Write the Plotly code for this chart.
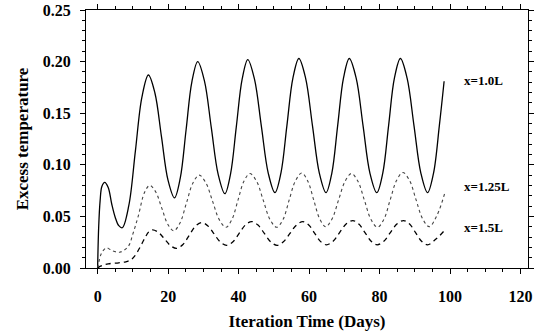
import plotly.graph_objects as go

# x = 1.0L (solid)
t_10 = [0, 0.3, 0.7, 1.2, 2.0, 3.0, 4.0, 5.0, 6.0, 7.0, 8.85, 10.7, 12.55, 14.4,
        16.25, 18.1, 19.95, 21.8, 23.45, 25.1, 26.75, 28.4, 30.3, 32.25, 34.2, 36.1,
        37.7, 39.35, 41.0, 42.6, 44.5, 46.45, 48.4, 50.3, 52.0, 53.7, 55.4, 57.1,
        59.0, 60.95, 62.9, 64.8, 66.45, 68.1, 69.75, 71.4, 73.35, 75.3, 77.25, 79.2,
        80.9, 82.55, 84.2, 85.9, 87.8, 89.75, 91.7, 93.6, 95.3, 96.95, 98.3]
y_10 = [0, 0.04, 0.065, 0.079, 0.083, 0.078, 0.062, 0.049, 0.041, 0.039, 0.0606, 0.113, 0.1654, 0.187,
        0.1696, 0.1275, 0.0854, 0.068, 0.0873, 0.134, 0.1807, 0.200, 0.1813, 0.136, 0.0907, 0.072,
        0.091, 0.137, 0.183, 0.202, 0.183, 0.1375, 0.092, 0.073, 0.092, 0.138, 0.184, 0.203,
        0.184, 0.138, 0.092, 0.073, 0.092, 0.138, 0.184, 0.203, 0.184, 0.138, 0.092, 0.073,
        0.092, 0.138, 0.184, 0.203, 0.184, 0.138, 0.092, 0.073, 0.092, 0.138, 0.181]

# x = 1.25L (dotted)
t_125 = [0, 0.5, 1.2, 2.5, 4.0, 6.3, 8.7, 10.0, 11.5, 13.4, 14.8,
         16.5, 18.2, 19.9, 21.6, 23.4, 25.2, 27.0, 28.8, 30.7, 32.6, 34.5, 36.4,
         38.1, 39.8, 41.5, 43.2, 45.1, 47.0, 48.9, 50.8, 52.6, 54.35, 56.1, 57.9,
         59.6, 61.3, 63.0, 64.7, 66.5, 68.35, 70.2, 72.0, 73.85, 75.7, 77.55, 79.4,
         81.2, 83.0, 84.8, 86.6, 88.5, 90.35, 92.2, 94.1, 96.3, 98.5]
y_125 = [0, 0.008, 0.015, 0.0195, 0.017, 0.0153, 0.021, 0.033, 0.050, 0.074, 0.080,
         0.0736, 0.058, 0.0424, 0.036, 0.0439, 0.063, 0.0821, 0.090, 0.0826, 0.0648, 0.0469, 0.0395,
         0.047, 0.0655, 0.084, 0.0915, 0.084, 0.0655, 0.047, 0.0395, 0.047, 0.066, 0.0843, 0.092,
         0.0844, 0.066, 0.0476, 0.040, 0.0475, 0.0658, 0.084, 0.0915, 0.084, 0.0655, 0.047, 0.0395,
         0.047, 0.066, 0.0848, 0.0925, 0.0848, 0.066, 0.0477, 0.040, 0.0512, 0.0727]

# x = 1.5L (dashed)
t_15 = [0, 1.0, 3.0, 6.0, 8.0, 9.5, 10.6, 12.0, 13.4, 14.5, 15.6,
        17.3, 19.0, 20.7, 22.4, 24.2, 25.95, 27.7, 29.5, 31.3, 33.05, 34.8, 36.6,
        38.4, 40.15, 41.9, 43.7, 45.5, 47.3, 49.1, 50.9, 52.7, 54.55, 56.4, 58.2,
        59.9, 61.55, 63.2, 64.9, 66.8, 68.65, 70.5, 72.4, 74.1, 75.85, 77.6, 79.3,
        81.2, 83.05, 84.9, 86.8, 88.5, 90.2, 91.9, 93.6, 96.0, 98.3]
y_15 = [0, 0.002, 0.004, 0.005, 0.006, 0.008, 0.012, 0.020, 0.029, 0.035, 0.037,
        0.0344, 0.028, 0.0216, 0.019, 0.0227, 0.0315, 0.0403, 0.044, 0.0408, 0.033, 0.0252, 0.022,
        0.0254, 0.0335, 0.0416, 0.045, 0.0416, 0.0335, 0.0254, 0.022, 0.0254, 0.0335, 0.0416, 0.045,
        0.0417, 0.0338, 0.0258, 0.0225, 0.0259, 0.0343, 0.0426, 0.046, 0.0426, 0.0343, 0.0259, 0.0225,
        0.0259, 0.0343, 0.0426, 0.046, 0.0426, 0.0343, 0.0259, 0.0225, 0.028, 0.036]

labels = ["x=1.0L", "x=1.25L", "x=1.5L"]
label_x = [103.3, 103.3, 103.3]
label_y = [0.182, 0.079, 0.039]

x_title = "Iteration Time (Days)"
y_title = "Excess temperature"

FONT = "Liberation Serif"

fig = go.Figure()
fig.add_trace(go.Scatter(x=t_10, y=y_10, mode="lines", line_shape="spline",
                         line=dict(color="black", width=1.3)))
fig.add_trace(go.Scatter(x=t_125, y=y_125, mode="lines", line_shape="spline",
                         line=dict(color="#444", width=1.1, dash="dot")))
fig.add_trace(go.Scatter(x=t_15, y=y_15, mode="lines", line_shape="spline",
                         line=dict(color="black", width=1.3, dash="5px,4px")))

for lab, lx, ly in zip(labels, label_x, label_y):
    fig.add_annotation(x=lx, y=ly, text="<b>" + lab + "</b>", showarrow=False, xanchor="left",
                       yanchor="middle", font=dict(family=FONT, size=13, color="black"))

axis_common = dict(showgrid=False, zeroline=False, showline=True, linecolor="black",
                   linewidth=1.2, mirror="ticks", ticks="outside", ticklen=5,
                   tickwidth=1.2, tickcolor="black", automargin=False,
                   tickfont=dict(family=FONT, size=16, color="black", weight="bold"))

fig.update_xaxes(range=[-3.3, 122.1], tick0=0, dtick=20, ticklabelstandoff=9,
                 minor=dict(dtick=5, ticks="outside", ticklen=3, tickcolor="black", tickwidth=1),
                 title=dict(text="<b>" + x_title + "</b>", font=dict(family=FONT, size=17, color="black"),
                            standoff=12),
                 **axis_common)
fig.update_yaxes(range=[0, 0.25], tick0=0, dtick=0.05, tickformat=".2f", ticklabelstandoff=6,
                 minor=dict(dtick=0.01, ticks="outside", ticklen=3, tickcolor="black", tickwidth=1),
                 title=dict(text="<b>" + y_title + "</b>", font=dict(family=FONT, size=17, color="black"),
                            standoff=9),
                 **axis_common)

fig.update_layout(width=545, height=331, margin=dict(l=86, r=17, t=10, b=63),
                  paper_bgcolor="white", plot_bgcolor="white", showlegend=False,
                  font=dict(family=FONT))

fig.write_html("out.html")
